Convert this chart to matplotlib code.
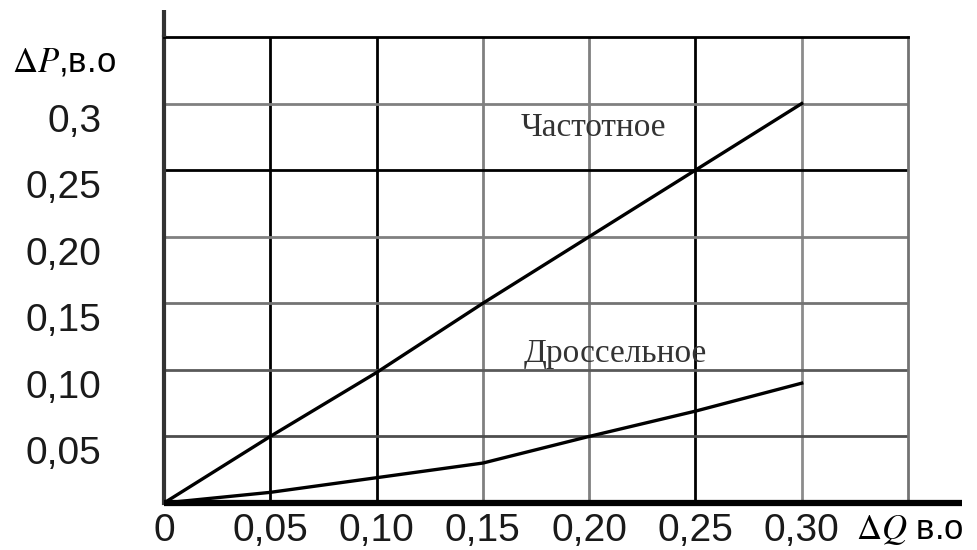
import matplotlib
matplotlib.use('Agg')
import matplotlib.pyplot as plt

# Data
dq = [0, 0.05, 0.10, 0.15, 0.20, 0.25, 0.30]
dp_freq = [0, 0.05, 0.098, 0.15, 0.20, 0.25, 0.30]
dp_throttle = [0, 0.008, 0.019, 0.030, 0.050, 0.069, 0.090]

x_ticks = [0, 0.05, 0.10, 0.15, 0.20, 0.25, 0.30]
x_labels = ['0', '0,05', '0,10', '0,15', '0,20', '0,25', '0,30']
y_ticks = [0.05, 0.10, 0.15, 0.20, 0.25, 0.30]
y_labels = ['0,05', '0,10', '0,15', '0,20', '0,25', '0,3']
grid_steps = [0.05, 0.10, 0.15, 0.20, 0.25, 0.30]

plt.rcParams['font.family'] = ['Liberation Sans', 'DejaVu Sans']
plt.rcParams['mathtext.fontset'] = 'stix'

W, H = 977, 550
fig = plt.figure(figsize=(W / 100, H / 100), dpi=100)
x0, x1, y0, y1 = 164, 908, 503, 37
ax = fig.add_axes([x0 / W, 1 - y0 / H, (x1 - x0) / W, (y0 - y1) / H])

ax.set_xlim(0, 0.35)
ax.set_ylim(0, 0.35)

# grid (scanned look: mix of black and grey lines)
v_colors = ['black', 'black', '0.5', '0.5', 'black', '0.55']
h_colors = ['0.3', '0.35', '0.45', '0.5', 'black', '0.5']
for v, c in zip(grid_steps, v_colors):
    ax.axvline(v, color=c, lw=2.0, zorder=1)
for v, c in zip(grid_steps, h_colors):
    ax.axhline(v, color=c, lw=2.0, zorder=1)

ax.plot(dq, dp_freq, color='black', lw=2.4, zorder=3)
ax.plot(dq, dp_throttle, color='black', lw=2.4, zorder=3)

ax.text(0.168, 0.282, 'Частотное', family='Liberation Serif', fontsize=24,
        color='0.2', va='center', ha='left')
ax.text(0.169, 0.101, 'Дроссельное', family='Liberation Serif', fontsize=24,
        color='0.2', va='bottom', ha='left')

for side in ['top', 'right']:
    ax.spines[side].set_linewidth(2.0)
ax.spines['top'].set_color('black')
ax.spines['right'].set_color('0.45')
ax.spines['left'].set_linewidth(3.0)
ax.spines['left'].set_color('0.2')
ax.spines['bottom'].set_visible(False)

# extended axes lines
ax.plot([0, 1.073], [0, 0], transform=ax.transAxes, color='black', lw=4.5,
        clip_on=False, solid_capstyle='butt', zorder=4)
ax.plot([0, 0], [1, 1.058], transform=ax.transAxes, color='0.2', lw=3.0,
        clip_on=False, solid_capstyle='butt', zorder=4)

ax.set_xticks(x_ticks)
ax.set_xticklabels(x_labels, fontsize=28)
ax.set_yticks(y_ticks)
ax.set_yticklabels(y_labels, fontsize=28, va='top')
ax.tick_params(axis='x', length=0, pad=7)
ax.tick_params(axis='y', length=0, pad=45)
for lab in ax.get_xticklabels() + ax.get_yticklabels():
    lab.set_color('#1a1a1a')

fig.text(64 / W, 1 - 62 / H, r'$\Delta P$,в.о', fontsize=25, ha='center', va='center')
fig.text(910 / W, 1 - 530 / H, r'$\Delta Q$ в.о', fontsize=25, ha='center', va='center')

fig.savefig('out.png', dpi=100, facecolor='white')
